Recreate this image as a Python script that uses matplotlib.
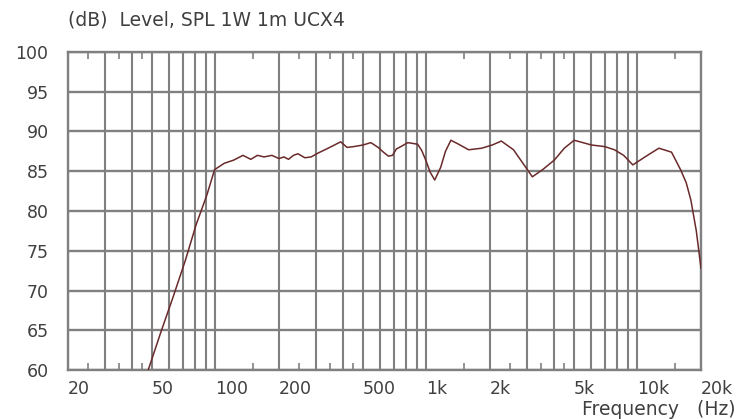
import matplotlib
matplotlib.use("Agg")
import matplotlib.pyplot as plt
from matplotlib.ticker import FixedLocator, NullFormatter

# ── Data ──────────────────────────────────────────────────────────────────────
freq_hz = [48, 55, 63, 72, 81, 91, 99, 110, 122, 135, 147, 158, 170,
           185, 200, 211, 222, 234, 246, 265, 284, 307, 342, 392, 420, 452,
           500, 545, 590, 625, 660, 690, 720, 756, 816, 908, 950, 992, 1040,
           1094, 1168, 1230, 1305, 1420, 1584, 1827, 2050, 2262, 2585, 2900,
           3174, 3550, 4034, 4500, 5011, 6058, 7000, 7780, 8600, 9503, 11000,
           12630, 14500, 16000, 17000, 17900, 19000, 20000]
spl_db = [60.0, 64.7, 69.2, 73.8, 78.3, 82.0, 85.2, 86.0, 86.4,
          87.0, 86.5, 87.0, 86.8, 87.0, 86.6, 86.8, 86.5, 87.0, 87.2, 86.7,
          86.8, 87.3, 87.9, 88.7, 88.0, 88.1, 88.3, 88.6, 88.0, 87.4, 86.9,
          87.0, 87.8, 88.1, 88.6, 88.4, 87.6, 86.4, 84.9, 83.9, 85.5, 87.5,
          88.9, 88.4, 87.7, 87.9, 88.3, 88.8, 87.7, 85.8, 84.3, 85.2, 86.4,
          87.9, 88.9, 88.3, 88.1, 87.7, 87.0, 85.8, 86.9, 87.9, 87.4, 85.2,
          83.6, 81.4, 77.5, 72.8]

label_freqs = [20, 50, 100, 200, 500, 1000, 2000, 5000, 10000, 20000]
label_texts = ["20", "50", "100", "200", "500", "1k", "2k", "5k", "10k", "20k"]
grid_freqs = [m * d for d in (10, 100, 1000) for m in range(2, 11)] + [20000]
minor_freqs = [25, 35, 45, 150, 250, 350, 450, 1500, 2500, 3500, 4500, 15000]
y_ticks = [60, 65, 70, 75, 80, 85, 90, 95, 100]

# ── Styling ───────────────────────────────────────────────────────────────────
GRID = "#808080"
TEXT = "#404040"
CURVE = "#6a2a2a"
FS = 12.5

plt.rcParams.update({
    "font.family": "DejaVu Sans",
    "text.color": TEXT,
    "xtick.color": TEXT,
    "ytick.color": TEXT,
})

fig = plt.figure(figsize=(7.4, 4.19), dpi=100, facecolor="white")
ax = fig.add_axes([68 / 740, 1 - 370 / 419, 633 / 740, 318 / 419])

ax.set_xscale("log")
ax.set_xlim(20, 20000)
ax.set_ylim(60, 100)

ax.plot(freq_hz, spl_db, color=CURVE, linewidth=1.1, zorder=3)

# vertical grid lines
for f in grid_freqs:
    ax.axvline(f, color=GRID, linewidth=1.5, zorder=1)
# horizontal grid lines
ax.set_yticks(y_ticks)
ax.yaxis.grid(True, color=GRID, linewidth=1.7, zorder=1)

# small inward minor ticks, top and bottom
ax.xaxis.set_major_locator(FixedLocator(label_freqs))
ax.xaxis.set_minor_locator(FixedLocator(minor_freqs))
ax.xaxis.set_major_formatter(NullFormatter())
ax.xaxis.set_minor_formatter(NullFormatter())
ax.tick_params(axis="x", which="major", length=0)
ax.tick_params(axis="x", which="minor", direction="in", length=5,
               width=1.2, color=GRID, top=True, bottom=True)
ax.tick_params(axis="y", length=0, pad=14, labelsize=FS)

for f, t in zip(label_freqs, label_texts):
    ax.text(f, -0.03, t, transform=ax.get_xaxis_transform(),
            ha="left", va="top", fontsize=FS, color=TEXT)

for s in ax.spines.values():
    s.set_color(GRID)
    s.set_linewidth(1.7)

fig.text(68 / 740, 1 - 20 / 419, "(dB)  Level, SPL 1W 1m UCX4",
         ha="left", va="center", fontsize=13.5, color=TEXT)
fig.text(735 / 740, 1 - 409 / 419, "Frequency   (Hz)",
         ha="right", va="center", fontsize=13.5, color=TEXT)

fig.savefig("out.png", dpi=100, facecolor="white")
